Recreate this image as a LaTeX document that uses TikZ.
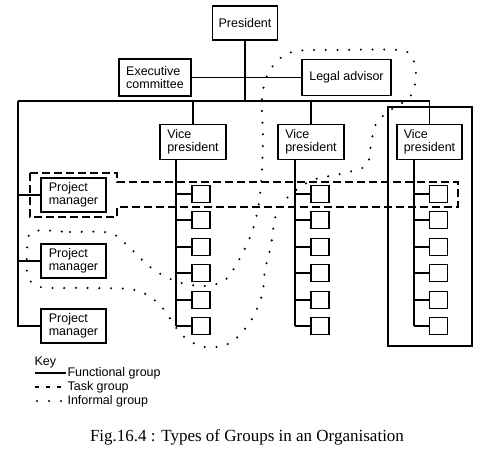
\documentclass[tikz,border=0pt]{standalone}
\usepackage{fontspec}
\setmainfont{Liberation Sans}
\newfontfamily\capfont{Liberation Serif}
\begin{document}
\begin{tikzpicture}[x=1pt,y=-1pt, line width=1.1pt,
 box/.style={draw, align=left, inner sep=2pt, font=\fontsize{12.5}{13.5}\selectfont},
 sq/.style={draw, minimum width=18pt, minimum height=17pt, inner sep=0pt},
 task/.style={dash pattern=on 8pt off 4pt},
 informal/.style={line width=2.3pt, line cap=round, dash pattern=on 0pt off 11.7pt},
 keytxt/.style={anchor=west, inner sep=1pt, font=\fontsize{12.5}{13.5}\selectfont}]
\useasboundingbox (0,0) rectangle (480,450);
% boxes
\node[box, minimum width=65pt, minimum height=34pt] (pres) at (245,23) {President};
\node[box, minimum width=72pt, minimum height=37pt] (exec) at (155,77.5) {Executive\\committee};
\node[box, minimum width=89pt, minimum height=36pt] (legal) at (346.5,77.5) {Legal advisor};
\node[box, minimum width=66pt, minimum height=35pt] (vp1) at (193,142) {Vice\\president};
\node[box, minimum width=66pt, minimum height=35pt] (vp2) at (311,142) {Vice\\president};
\node[box, minimum width=65pt, minimum height=35pt] (vp3) at (429.5,142) {Vice\\president};
\node[box, minimum width=65pt, minimum height=34pt] (pm1) at (73.5,195) {Project\\manager};
\node[box, minimum width=65pt, minimum height=34pt] (pm2) at (73.5,261) {Project\\manager};
\node[box, minimum width=65pt, minimum height=34pt] (pm3) at (73.5,326) {Project\\manager};
\node[draw, minimum width=84pt, minimum height=239pt, inner sep=0pt] (grp) at (430,226.5) {};
\foreach \c/\xc in {1/201,2/320,3/438.5}
  \foreach \i/\yc in {1/194,2/220,3/247,4/273,5/300,6/326}
    \node[sq] (s\c\i) at (\xc,\yc) {};
% functional connectors
\coordinate (busL) at (18,101);
\coordinate (busR) at (430,101);
\draw (pres.south) -- (pres.south |- busL);
\draw (exec.east) -- (legal.west);
\draw (busL) -- (busR);
\draw (busL) -- (busL |- pm3.west) -- (pm3.west);
\draw (busL |- pm1.west) -- (pm1.west);
\draw (busL |- pm2.west) -- (pm2.west);
\foreach \c in {1,2,3} \draw (vp\c.north |- busL) -- (vp\c.north);
\foreach \c/\dx in {1/-17,2/-16,3/-15.5}{
  \coordinate (stem\c) at ([xshift=\dx pt]vp\c.south);
  \draw (stem\c) -- (stem\c |- s\c6.west);
  \foreach \i in {1,...,6} \draw (stem\c |- s\c\i.west) -- (s\c\i.west);
}
% task group
\draw[task] (30,173) -- (117,173) -- (117,182) -- (458,182) -- (458,207) -- (117,207) -- (117,217) -- (30,217) -- cycle;
% informal group
\draw[informal] plot[smooth cycle, tension=0.55] coordinates {
(32,232) (70,232) (110,233) (130,248) (150,267) (175,281) (203,286) (225,280)
(240,258) (252,232) (259,203) (262,170) (263,135) (262,98) (270,70) (292,52)
(340,50) (398,50) (412,57) (416,77) (410,97) (392,109) (376,124) (370,150)
(366,166) (340,174) (313,180) (290,195) (276,215) (271,245) (265,270) (262,295)
(250,322) (230,343) (205,347) (182,335) (160,305) (135,290) (90,288) (40,287)
(28,275) (27,255)};
% key
\node[keytxt] (key) at (33,362) {Key};
\node[keytxt] (kf) at (66,373) {Functional group};
\node[keytxt] (kt) at (66,387) {Task group};
\node[keytxt] (ki) at (66,401) {Informal group};
\draw (35,373) -- (kf.west);
\draw[dash pattern=on 4pt off 7pt] (35,387) -- (kt.west);
\draw[line width=2.3pt, line cap=round, dash pattern=on 0pt off 12pt] (37,401) -- (kt.west |- ki.west);
% caption
\node[font=\capfont\fontsize{17}{19}\selectfont] (cap) at (247,437) {Fig.16.4 : Types of Groups in an Organisation};
\end{tikzpicture}
\end{document}
